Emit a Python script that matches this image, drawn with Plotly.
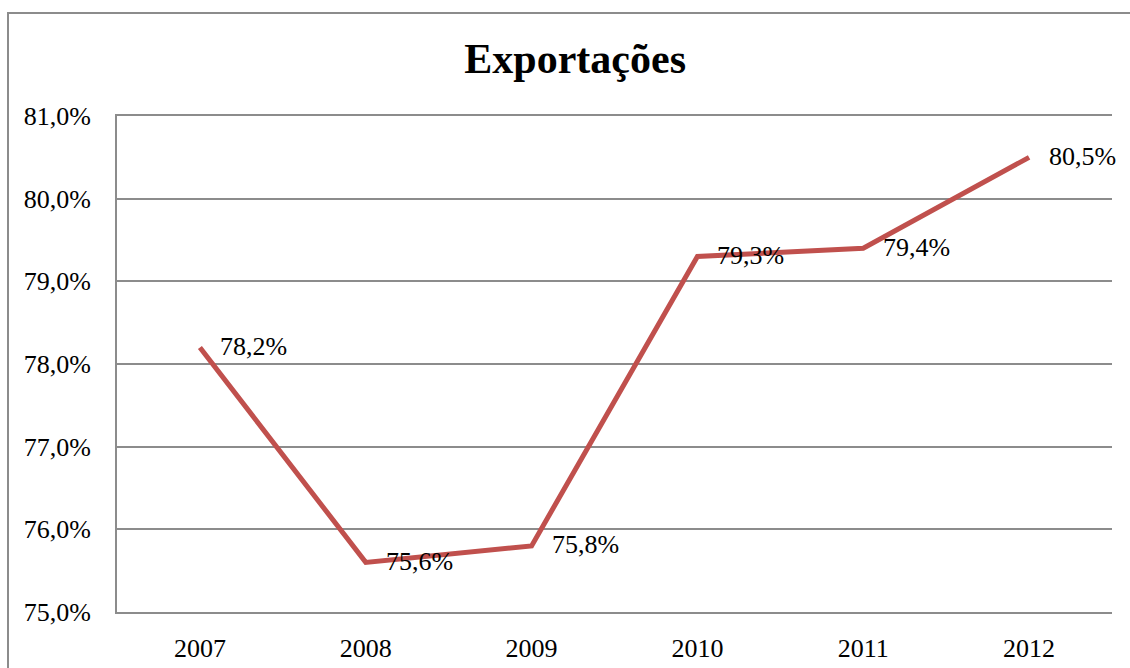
import plotly.graph_objects as go

# Export share by year
years = ["2007", "2008", "2009", "2010", "2011", "2012"]
share = [78.2, 75.6, 75.8, 79.3, 79.4, 80.5]
y_ticks = [75, 76, 77, 78, 79, 80, 81]

FONT = "Liberation Serif, Times New Roman, serif"
W, H = 1130, 668
M_L, M_R, M_T, M_B = 117, 18, 116, 56
GRID = "#8c8c8c"


def pct(v):
    return f"{v:.1f}".replace(".", ",") + "%"


fig = go.Figure()
fig.add_trace(go.Scatter(
    x=years, y=share, mode="lines",
    line=dict(color="#C0504D", width=5),
    hoverinfo="skip", showlegend=False,
))

# value labels to the right of each point
for i, v in enumerate(share):
    fig.add_annotation(
        x=i, y=v, xref="x", yref="y", text=pct(v), showarrow=False,
        xanchor="left", yanchor="middle", xshift=18, yshift=1,
        font=dict(family=FONT, size=26, color="black"),
    )

# outer chart frame
pw = W - M_L - M_R
ph = H - M_T - M_B
fig.add_shape(
    type="rect", xref="paper", yref="paper",
    x0=(8 - M_L) / pw, x1=(W + 10 - M_L) / pw,
    y0=-(H + 10 - M_T - ph) / ph, y1=1 + (M_T - 13) / ph,
    line=dict(color=GRID, width=2), layer="below",
)

fig.update_layout(
    width=W, height=H,
    margin=dict(l=M_L, r=M_R, t=M_T, b=M_B, autoexpand=False),
    paper_bgcolor="white", plot_bgcolor="white",
    separators=",.",
    title=dict(
        text="<b>Exportações</b>", x=0.509, xanchor="center",
        y=1 - 58 / H, yanchor="middle",
        font=dict(family=FONT, size=42, color="black"),
    ),
    xaxis=dict(
        type="category", range=[-0.5, 5.5],
        showgrid=False, zeroline=False,
        showline=True, mirror=True, linecolor=GRID, linewidth=2,
        ticks="",
        tickfont=dict(family=FONT, size=26, color="black"),
        ticklabelstandoff=12,
    ),
    yaxis=dict(
        range=[75, 81], tickvals=y_ticks,
        ticktext=[pct(v) for v in y_ticks],
        showgrid=True, gridcolor=GRID, gridwidth=2,
        zeroline=False, showline=True, linecolor=GRID, linewidth=2,
        ticks="", tickfont=dict(family=FONT, size=26, color="black"),
        ticklabelstandoff=19,
    ),
)

fig.write_html("out.html")
